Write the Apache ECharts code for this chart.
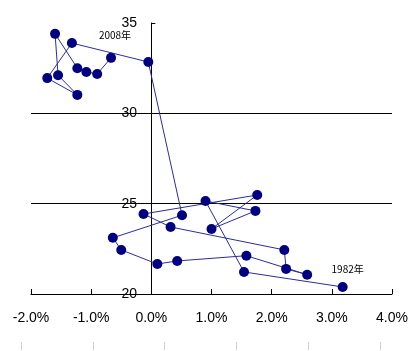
<!DOCTYPE html>
<html>
<head>
<meta charset="utf-8">
<script src="https://cdn.jsdelivr.net/npm/echarts@6/dist/echarts.min.js"></script>
<style>
  html, body { margin: 0; padding: 0; background: #fff; }
  #chart { width: 420px; height: 351px; }
</style>
</head>
<body>
<div id="chart"></div>
<script>
// 1982 -> 2008, in drawing order
const years = [1982, 1983, 1984, 1985, 1986, 1987, 1988, 1989, 1990, 1991, 1992, 1993, 1994,
  1995, 1996, 1997, 1998, 1999, 2000, 2001, 2002, 2003, 2004, 2005, 2006, 2007, 2008]
const xPct = [3.18, 1.54, 0.90, 1.73, 1.00, 1.76, -0.13, 0.32, 2.21, 2.24, 2.59, 1.58, 0.43,
  0.10, -0.50, -0.64, 0.51, -0.05, -1.32, -1.73, -1.23, -1.55, -1.60, -1.23, -1.08, -0.90, -0.67]
const yVal = [20.39, 21.22, 25.15, 24.60, 23.60, 25.48, 24.43, 23.71, 22.44, 21.39, 21.07, 22.12, 21.83,
  21.66, 22.44, 23.11, 24.36, 32.84, 33.89, 31.95, 31.02, 32.11, 34.40, 32.50, 32.29, 32.18, 33.07]
const labelYears = [1982, 2008]
// grey smear under the x axis, from x to x
const smear = [-0.4, 2.47]

const chart = echarts.init(document.getElementById('chart'), null, { renderer: 'canvas' })

const points = years.map((yr, i) => {
  const p = { value: [xPct[i], yVal[i]] }
  if (labelYears.includes(yr)) {
    p.label = {
      show: true,
      formatter: yr + '年',
      position: 'top',
      offset: yr === 2008 ? [4, -8] : [5, -3],
      fontSize: 10,
      color: '#000',
      fontFamily: 'Noto Sans CJK JP'
    }
  }
  return p
})

const axisFont = { fontFamily: 'Liberation Sans', fontSize: 14, color: '#000' }

chart.setOption({
  animation: false,
  grid: [
    { left: 31, right: 28, top: 23, bottom: 57 },
    { left: 21, right: 40, top: 330, bottom: 1 }
  ],
  xAxis: [
    {
      type: 'value',
      min: -2,
      max: 4,
      interval: 1,
      axisLine: { onZero: false, lineStyle: { color: '#000', width: 1 } },
      axisTick: { inside: true, length: 5, lineStyle: { color: '#000' } },
      axisLabel: { ...axisFont, margin: 17, formatter: v => v.toFixed(1) + '%' },
      splitLine: { show: false }
    },
    {
      // faint tick row below the chart
      gridIndex: 1,
      type: 'value',
      min: 0,
      max: 5,
      interval: 1,
      axisLine: { show: false },
      axisTick: { inside: true, length: 8, lineStyle: { color: '#c3d3ef' } },
      axisLabel: { show: false },
      splitLine: { show: false }
    }
  ],
  yAxis: [
    {
      type: 'value',
      min: 20,
      max: 35,
      interval: 5,
      axisLine: { show: true, onZero: true, lineStyle: { color: '#000', width: 1 } },
      axisTick: { show: true, inside: true, length: 4, lineStyle: { color: '#000' } },
      // labels sit next to the line at x=0, not at the grid edge
      axisLabel: { ...axisFont, margin: -106 },
      splitLine: { show: true, showMaxLine: false, lineStyle: { color: '#000', width: 1 } }
    },
    { gridIndex: 1, type: 'value', show: false }
  ],
  series: [
    {
      type: 'line',
      data: points,
      symbol: 'circle',
      symbolSize: 10,
      showSymbol: true,
      itemStyle: { color: '#000080' },
      lineStyle: { color: '#2b2ba0', width: 1 },
      z: 3,
      markLine: {
        silent: true,
        symbol: 'none',
        label: { show: false },
        lineStyle: { color: '#a0a0a0', width: 1.5, type: 'solid' },
        data: [[{ coord: [smear[0], 19.93] }, { coord: [smear[1], 19.93] }]]
      }
    }
  ]
})
</script>
</body>
</html>
